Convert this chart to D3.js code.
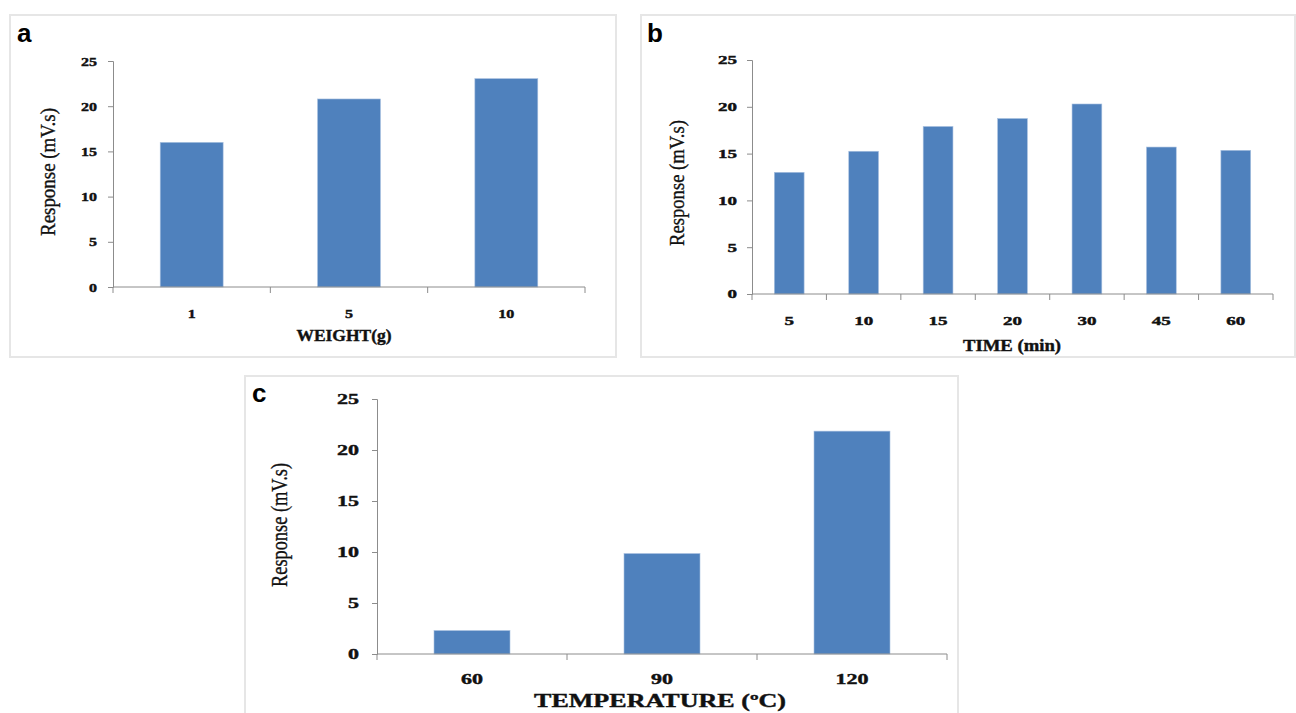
<!DOCTYPE html>
<html>
<head>
<meta charset="utf-8">
<script src="https://cdn.jsdelivr.net/npm/d3@7"></script>
<style>
  body { margin: 0; background: #fff; }
  svg { display: block; }
</style>
</head>
<body>
<svg id="chart" width="1296" height="713"></svg>
<script>
// values
var weightCats = ['1', '5', '10'];
var weightVals = [16.0, 20.8, 23.05];

var timeCats = ['5', '10', '15', '20', '30', '45', '60'];
var timeVals = [13.0, 15.25, 17.9, 18.75, 20.3, 15.7, 15.35];

var tempCats = ['60', '90', '120'];
var tempVals = [2.3, 9.85, 21.85];

var yTicks = [0, 5, 10, 15, 20, 25];

var svg = d3.select('#chart');
var barColor = '#4f81bd';
var axisColor = '#8c8c8c';
var serif = 'Liberation Serif, Times New Roman, serif';

// one panel = box + letter + bar chart
function drawPanel(p) {
    var g = svg.append('g');

    g.append('rect')
        .attr('x', p.box[0]).attr('y', p.box[1])
        .attr('width', p.box[2]).attr('height', p.box[3])
        .attr('fill', '#fff')
        .attr('stroke', '#e6e6e6')
        .attr('stroke-width', 2);

    g.append('text')
        .attr('x', p.letter[0]).attr('y', p.letter[1])
        .attr('font-family', 'Liberation Sans, Arial, sans-serif')
        .attr('font-weight', 'bold')
        .attr('font-size', 26)
        .text(p.name);

    var x = d3.scaleBand().domain(p.cats).range([p.x0, p.x1]).paddingInner(0.6).paddingOuter(0.3);
    var y = d3.scaleLinear().domain([0, 25]).range([p.y0, p.y1]);

    // bars
    g.selectAll('.bar')
        .data(p.vals)
        .enter().append('rect')
        .attr('x', function(d, i) { return x(p.cats[i]); })
        .attr('y', function(d) { return y(d); })
        .attr('width', x.bandwidth())
        .attr('height', function(d) { return y(0) - y(d); })
        .attr('fill', barColor)
        .attr('stroke', '#a9c1e0')
        .attr('stroke-width', 0.6);

    // y axis
    var yAxis = d3.axisLeft(y).tickValues(yTicks).tickSize(5).tickPadding(p.yPad);
    var yG = g.append('g').attr('transform', 'translate(' + p.x0 + ',0)').call(yAxis);
    yG.select('.domain').attr('stroke', axisColor);
    yG.selectAll('.tick line').attr('stroke', axisColor);
    // the source figure is stretched sideways, so the digits are widened
    yG.selectAll('.tick text')
        .attr('font-family', serif)
        .attr('font-weight', 'bold')
        .attr('font-size', p.tickSize)
        .attr('textLength', function(d) { return String(d).length * p.tickW; })
        .attr('lengthAdjust', 'spacingAndGlyphs')
        .attr('fill', '#111')
        .attr('stroke', '#111')
        .attr('stroke-width', 0.4);

    // x axis: domain line + boundary ticks
    var bounds = d3.range(p.cats.length + 1).map(function(i) { return p.x0 + i * (p.x1 - p.x0) / p.cats.length; });
    g.append('line')
        .attr('x1', p.x0).attr('x2', p.x1)
        .attr('y1', p.y0).attr('y2', p.y0)
        .attr('stroke', axisColor);
    g.selectAll('.xtick')
        .data(bounds)
        .enter().append('line')
        .attr('x1', function(d) { return d; }).attr('x2', function(d) { return d; })
        .attr('y1', p.y0).attr('y2', p.y0 + 6)
        .attr('stroke', axisColor);
    g.selectAll('.xlab')
        .data(p.cats)
        .enter().append('text')
        .attr('x', function(d) { return x(d) + x.bandwidth() / 2; })
        .attr('y', p.y0 + p.tickDy)
        .attr('text-anchor', 'middle')
        .attr('font-family', serif)
        .attr('font-weight', 'bold')
        .attr('font-size', p.tickSize)
        .attr('textLength', function(d) { return d.length * p.tickW; })
        .attr('lengthAdjust', 'spacingAndGlyphs')
        .attr('fill', '#111')
        .attr('stroke', '#111')
        .attr('stroke-width', 0.4)
        .text(function(d) { return d; });

    // axis titles
    g.append('text')
        .attr('transform', 'translate(' + p.yTitle[0] + ',' + p.yTitle[1] + ') rotate(-90)')
        .attr('text-anchor', 'middle')
        .attr('font-family', serif)
        .attr('font-size', p.yTitle[3])
        .attr('textLength', p.yTitle[2])
        .attr('lengthAdjust', 'spacingAndGlyphs')
        .attr('fill', '#111')
        .attr('stroke', '#111')
        .attr('stroke-width', 0.35)
        .text('Response (mV.s)');

    g.append('text')
        .attr('x', p.xTitle[0]).attr('y', p.xTitle[1])
        .attr('text-anchor', 'middle')
        .attr('font-family', serif)
        .attr('font-weight', 'bold')
        .attr('font-size', p.xTitle[3])
        .attr('textLength', p.xTitle[2])
        .attr('lengthAdjust', 'spacingAndGlyphs')
        .attr('fill', '#111')
        .attr('stroke', '#111')
        .attr('stroke-width', 0.4)
        .text(p.xLabel);
}

drawPanel({
    name: 'a', box: [10, 15, 606, 342], letter: [17, 42],
    cats: weightCats, vals: weightVals,
    x0: 113, x1: 585, y0: 287, y1: 61,
    tickSize: 12.5, tickW: 8, tickDy: 31, yPad: 11,
    yTitle: [55, 172, 128, 21], xTitle: [344, 341, 95, 16], xLabel: 'WEIGHT(g)'
});

drawPanel({
    name: 'b', box: [641, 15, 654, 342], letter: [647, 42],
    cats: timeCats, vals: timeVals,
    x0: 752, x1: 1273, y0: 294, y1: 60,
    tickSize: 12, tickW: 9.5, tickDy: 31, yPad: 10,
    yTitle: [684, 183, 126, 21], xTitle: [1012, 351, 98, 16], xLabel: 'TIME (min)'
});

drawPanel({
    name: 'c', box: [245, 376, 713, 345], letter: [252, 402],
    cats: tempCats, vals: tempVals,
    x0: 377, x1: 947, y0: 654, y1: 399,
    tickSize: 14, tickW: 11, tickDy: 30, yPad: 13,
    yTitle: [287, 525, 124, 23], xTitle: [660, 707, 252, 18], xLabel: 'TEMPERATURE (ºC)'
});
</script>
</body>
</html>
